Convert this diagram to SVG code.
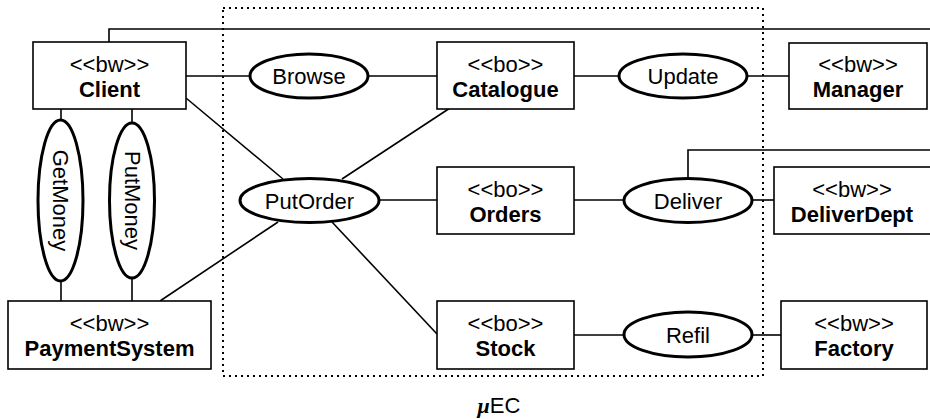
<svg xmlns="http://www.w3.org/2000/svg" width="930" height="419" viewBox="0 0 930 419">
  <style>
    .box { fill: #fff; stroke: #000; stroke-width: 1.6; }
    .uc { fill: #fff; stroke: #000; stroke-width: 3; }
    .ln { fill: none; stroke: #000; stroke-width: 1.6; }
    .frame { fill: none; stroke: #000; stroke-width: 2; stroke-dasharray: 2 4; }
    text { font-family: "Liberation Sans", Arial, sans-serif; font-size: 22px; fill: #000; text-anchor: middle; }
    .nm { font-weight: bold; }
  </style>

  <!-- system boundary -->
  <rect class="frame" x="223" y="8" width="540" height="368"/>

  <g id="connectors">
    <polyline class="ln" points="109,42 109,29 930,29"/>
    <polyline class="ln" points="688,178 688,150 930,150"/>
    <line class="ln" x1="186" y1="76" x2="250" y2="76"/>
    <line class="ln" x1="368" y1="76" x2="437" y2="76"/>
    <line class="ln" x1="574" y1="76" x2="619" y2="76"/>
    <line class="ln" x1="747" y1="76" x2="789" y2="76"/>
    <line class="ln" x1="186" y1="98" x2="283" y2="179"/>
    <line class="ln" x1="450" y1="108" x2="342" y2="179"/>
    <line class="ln" x1="379" y1="200" x2="437" y2="200"/>
    <line class="ln" x1="574" y1="200" x2="624" y2="200"/>
    <line class="ln" x1="752" y1="200" x2="774" y2="200"/>
    <line class="ln" x1="160" y1="301" x2="278" y2="222"/>
    <line class="ln" x1="332" y1="222" x2="437" y2="334"/>
    <line class="ln" x1="574" y1="335" x2="624" y2="335"/>
    <line class="ln" x1="752" y1="335" x2="781" y2="335"/>
    <line class="ln" x1="61" y1="109" x2="61" y2="120"/>
    <line class="ln" x1="61" y1="281" x2="61" y2="301"/>
    <line class="ln" x1="132" y1="109" x2="132" y2="123"/>
    <line class="ln" x1="132" y1="278" x2="132" y2="301"/>
  </g>

  <!-- actors and business objects -->
  <g id="client">
    <rect class="box" x="33" y="42" width="153" height="67"/>
    <text x="109.5" y="72">&lt;&lt;bw&gt;&gt;</text>
    <text class="nm" x="109.5" y="97">Client</text>
  </g>
  <g id="catalogue">
    <rect class="box" x="437" y="42" width="137" height="67"/>
    <text x="505.5" y="72">&lt;&lt;bo&gt;&gt;</text>
    <text class="nm" x="505.5" y="97">Catalogue</text>
  </g>
  <g id="manager">
    <rect class="box" x="789" y="43" width="138" height="66"/>
    <text x="858" y="72">&lt;&lt;bw&gt;&gt;</text>
    <text class="nm" x="858" y="97">Manager</text>
  </g>
  <g id="orders">
    <rect class="box" x="437" y="167" width="137" height="67"/>
    <text x="505.5" y="197">&lt;&lt;bo&gt;&gt;</text>
    <text class="nm" x="505.5" y="222">Orders</text>
  </g>
  <g id="deliverdept">
    <rect class="box" x="774" y="167" width="160" height="67"/>
    <text x="852" y="197">&lt;&lt;bw&gt;&gt;</text>
    <text class="nm" x="852" y="222">DeliverDept</text>
  </g>
  <g id="paymentsystem">
    <rect class="box" x="8" y="301" width="203" height="68"/>
    <text x="109.5" y="331">&lt;&lt;bw&gt;&gt;</text>
    <text class="nm" x="109.5" y="356">PaymentSystem</text>
  </g>
  <g id="stock">
    <rect class="box" x="437" y="301" width="137" height="68"/>
    <text x="505.5" y="331">&lt;&lt;bo&gt;&gt;</text>
    <text class="nm" x="505.5" y="356">Stock</text>
  </g>
  <g id="factory">
    <rect class="box" x="781" y="301" width="146" height="68"/>
    <text x="854" y="331">&lt;&lt;bw&gt;&gt;</text>
    <text class="nm" x="854" y="356">Factory</text>
  </g>

  <!-- use cases -->
  <g id="browse">
    <ellipse class="uc" cx="309" cy="76" rx="59" ry="22"/>
    <text x="309" y="84">Browse</text>
  </g>
  <g id="update">
    <ellipse class="uc" cx="683" cy="76" rx="64" ry="22"/>
    <text x="683" y="84">Update</text>
  </g>
  <g id="putorder">
    <ellipse class="uc" cx="309.5" cy="200.5" rx="69.5" ry="22"/>
    <text x="309.5" y="208.5">PutOrder</text>
  </g>
  <g id="deliver">
    <ellipse class="uc" cx="688" cy="200.5" rx="64" ry="22"/>
    <text x="688" y="208.5">Deliver</text>
  </g>
  <g id="refil">
    <ellipse class="uc" cx="688" cy="334.5" rx="64" ry="22.5"/>
    <text x="688" y="342.5">Refil</text>
  </g>
  <g id="getmoney">
    <ellipse class="uc" cx="60.5" cy="200.5" rx="22.5" ry="80.5"/>
    <text transform="translate(53,200.5) rotate(90)" x="0" y="0">GetMoney</text>
  </g>
  <g id="putmoney">
    <ellipse class="uc" cx="132" cy="200.5" rx="22.5" ry="77.5"/>
    <text transform="translate(124.5,200.5) rotate(90)" x="0" y="0">PutMoney</text>
  </g>

  <!-- system name -->
  <text x="499" y="413"><tspan style="font-family:'Liberation Serif','Times New Roman',serif;font-weight:bold;font-style:italic">μ</tspan>EC</text>
</svg>
